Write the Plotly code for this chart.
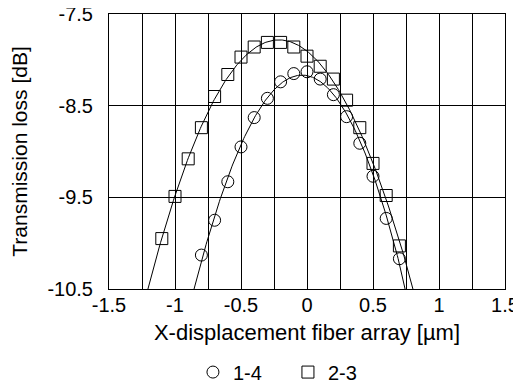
import numpy as np
import plotly.graph_objects as go

# ---- data ----
x_14 = [-0.8, -0.7, -0.6, -0.5, -0.4, -0.3, -0.2, -0.1, 0.0, 0.1, 0.2, 0.3, 0.4, 0.5, 0.6, 0.7]
loss_14 = [-10.13, -9.75, -9.33, -8.95, -8.63, -8.42, -8.24, -8.15, -8.13, -8.21, -8.38, -8.62, -8.91, -9.27, -9.73, -10.17]

x_23 = [-1.1, -1.0, -0.9, -0.8, -0.7, -0.6, -0.5, -0.4, -0.3, -0.2, -0.1, 0.0, 0.1, 0.2, 0.3, 0.4, 0.5, 0.6, 0.7]
loss_23 = [-9.95, -9.49, -9.08, -8.74, -8.40, -8.16, -7.97, -7.86, -7.81, -7.81, -7.86, -7.96, -8.07, -8.21, -8.44, -8.74, -9.13, -9.48, -10.03]

x_tickvals = [-1.5, -1, -0.5, 0, 0.5, 1, 1.5]
x_ticktext = ["-1.5", "-1", "-0.5", "0", "0.5", "1", "1.5"]
y_tickvals = [-7.5, -8.5, -9.5, -10.5]
y_ticktext = ["-7.5", "-8.5", "-9.5", "-10.5"]

series_names = ["1-4", "2-3"]

# least-squares polynomial fit lines through the measured points
def fit_curve(xs, ys, x_lo, x_hi, deg=3):
    coef = np.polyfit(xs, ys, deg)
    xx = np.linspace(x_lo, x_hi, 300)
    return xx, np.polyval(coef, xx)

fx14, fy14 = fit_curve(x_14, loss_14, -1.0, 0.9)
fx23, fy23 = fit_curve(x_23, loss_23, -1.35, 0.9)

FONT = "Arial, Liberation Sans, sans-serif"

fig = go.Figure()
fig.add_trace(go.Scatter(x=fx14, y=fy14, mode="lines", line=dict(color="black", width=1),
                         showlegend=False, hoverinfo="skip"))
fig.add_trace(go.Scatter(x=fx23, y=fy23, mode="lines", line=dict(color="black", width=1),
                         showlegend=False, hoverinfo="skip"))
fig.add_trace(go.Scatter(x=x_14, y=loss_14, mode="markers", name=series_names[0],
                         marker=dict(symbol="circle-open", size=12, color="black",
                                     line=dict(color="black", width=1))))
fig.add_trace(go.Scatter(x=x_23, y=loss_23, mode="markers", name=series_names[1],
                         marker=dict(symbol="square-open", size=12, color="black",
                                     line=dict(color="black", width=1))))

fig.update_layout(
    width=513, height=378,
    margin=dict(l=101, r=16, t=6, b=97, autoexpand=False),
    paper_bgcolor="white", plot_bgcolor="white",
    font=dict(family=FONT, size=20, color="black"),
    legend=dict(orientation="h", x=0.212, xanchor="left", y=-0.373, yanchor="bottom",
                font=dict(size=20), entrywidth=50, bgcolor="rgba(0,0,0,0)"),
)
fig.update_xaxes(
    range=[-1.5, 1.5], tickmode="array", tickvals=x_tickvals, ticktext=x_ticktext,
    showgrid=True, gridcolor="black", gridwidth=1,
    minor=dict(dtick=0.25, tick0=-1.5, showgrid=True, gridcolor="black", gridwidth=1),
    showline=True, mirror=True, linecolor="black", linewidth=1,
    zeroline=False, ticks="", ticklabelstandoff=-2, ticklabeloverflow="allow",
    title=dict(text="X-displacement fiber array [µm]", font=dict(size=22), standoff=9),
)
fig.update_yaxes(
    range=[-10.5, -7.5], tickmode="array", tickvals=y_tickvals, ticktext=y_ticktext,
    showgrid=True, gridcolor="black", gridwidth=1,
    showline=True, mirror=True, linecolor="black", linewidth=1,
    zeroline=False, ticks="", ticklabelstandoff=11, ticklabeloverflow="allow",
    title=dict(text="Transmission loss [dB]", font=dict(size=21), standoff=20),
)

fig.write_html("out.html")
